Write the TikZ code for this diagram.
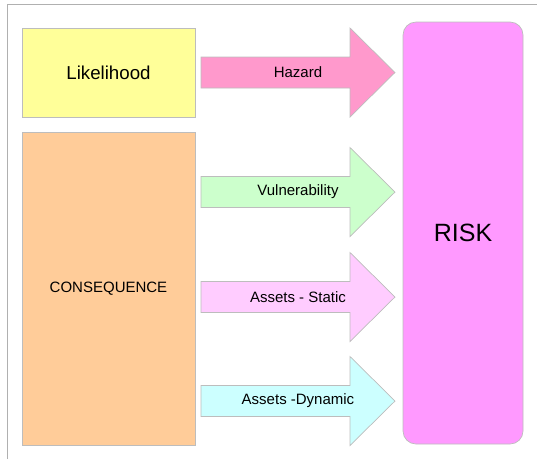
\documentclass[tikz,border=0pt]{standalone}
\usepackage{fontspec}
\setmainfont{Liberation Sans}
\usepackage{tikz}
\usetikzlibrary{shapes,arrows}
\definecolor{likelihoodyellow}{HTML}{FFFF99}
\definecolor{consequenceorange}{HTML}{FFCC99}
\definecolor{hazardpink}{HTML}{FF99CC}
\definecolor{vulnergreen}{HTML}{CCFFCC}
\definecolor{staticpink}{HTML}{FFCCFF}
\definecolor{dynamiccyan}{HTML}{CCFFFF}
\definecolor{riskmagenta}{HTML}{FF99FF}
\definecolor{edgegray}{HTML}{BDBDBD}
\definecolor{framegray}{HTML}{B0B0B0}
\tikzstyle{block} = [draw=edgegray, line width=0.7pt, rectangle,
    inner sep=0pt, font=\fontsize{15}{18}\selectfont]
\tikzstyle{riskblock} = [block, rounded corners=13pt,
    font=\fontsize{25}{30}\selectfont]
\tikzstyle{fat} = [draw=edgegray, line width=0.7pt, line join=miter]
\tikzstyle{arrowtext} = [inner sep=0pt, font=\fontsize{15}{18}\selectfont]
% fat arrow from the factor boxes to the risk box: #1 = centre y, #2 = colour
\newcommand{\fatarrow}[2]{%
  \draw [fat, fill=#2] (201,#1-15.5) -- (350,#1-15.5) -- (350,#1-44.5)
    -- (395,#1) -- (350,#1+44.5) -- (350,#1+15.5) -- (201,#1+15.5) -- cycle;}

\begin{document}
\begin{tikzpicture}[x=1pt, y=-1pt]
    \useasboundingbox (0,0) rectangle (537,459);
    \draw [framegray, line width=1pt] (7,459) -- (7,4) -- (537,4);

    % The two factor blocks on the left
    \node [block, fill=likelihoodyellow, minimum width=173pt,
        minimum height=89pt, font=\fontsize{18.7}{22}\selectfont]
        (likelihood) at (108.5,72.5) {Likelihood};
    \node [block, fill=consequenceorange, minimum width=173pt,
        minimum height=313pt] (consequence) at (108.5,288.5) {CONSEQUENCE};

    % The result block on the right
    \node [riskblock, fill=riskmagenta, minimum width=120pt,
        minimum height=422pt] (risk) at (463,233) {RISK};

    % The fat arrows and their texts
    \fatarrow{72.5}{hazardpink}
    \node [arrowtext] (hazard) at (298,72.5) {Hazard};
    \fatarrow{192}{vulnergreen}
    \node [arrowtext] (vulnerability) at (298,192) {Vulnerability};
    \fatarrow{297}{staticpink}
    \node [arrowtext] (static) at (298,297) {Assets - Static};
    \fatarrow{401}{dynamiccyan}
    \node [arrowtext] (dynamic) at (298,401) {Assets -Dynamic};

\end{tikzpicture}
\end{document}
